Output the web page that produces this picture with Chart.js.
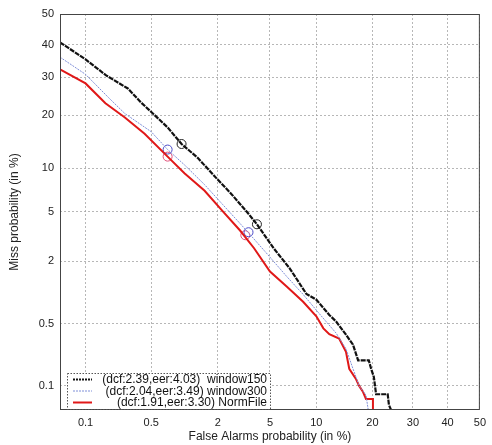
<!DOCTYPE html>
<html>
<head>
<meta charset="utf-8">
<script src="https://cdn.jsdelivr.net/npm/chart.js@4/dist/chart.umd.min.js"></script>
<style>
    html, body { margin: 0; padding: 0; background: #fff; }
    canvas { display: block; }
</style>
</head>
<body>
<canvas id="det" width="492" height="445"></canvas>
<script>
// tick positions (in %) on both axes
const tickValues = [0.1, 0.5, 2, 5, 10, 20, 30, 40, 50];
const tickLabels = ['0.1', '0.5', '2', '5', '10', '20', '30', '40', '50'];

// window150
const fa150 = [0.05, 0.1, 0.17, 0.29, 0.40, 0.51, 0.72, 0.97, 1.35, 1.98, 2.55, 3.40, 4.03, 5.3, 6.8, 8.7, 10.0, 11.9, 13.0, 14.7, 16.0, 17.0, 19.2, 19.7, 20.3, 20.8, 23.5, 23.8, 24.7];
const miss150 = [40.7, 35.3, 30.5, 26.8, 23.0, 20.6, 17.3, 14.0, 11.6, 8.5, 6.8, 5.0, 4.03, 2.58, 1.73, 1.0, 0.88, 0.62, 0.53, 0.385, 0.30, 0.20, 0.20, 0.16, 0.128, 0.079, 0.079, 0.058, 0.045];
// window300
const fa300 = [0.05, 0.1, 0.18, 0.27, 0.50, 0.72, 1.03, 1.55, 2.18, 3.40, 4.6, 6.5, 8.3, 10.4, 13.0, 14.7, 16.0, 17.2, 18.6, 19.2];
const miss300 = [36.0, 30.8, 24.4, 20.4, 16.4, 13.0, 10.5, 7.8, 5.7, 3.56, 2.43, 1.46, 0.99, 0.64, 0.40, 0.27, 0.16, 0.10, 0.077, 0.045];
// NormFile
const faNorm = [0.05, 0.1, 0.167, 0.27, 0.43, 0.72, 1.03, 1.55, 2.18, 3.01, 3.84, 5.0, 6.5, 8.3, 10.0, 11.0, 11.9, 13.5, 14.7, 15.3, 16.6, 17.2, 18.0, 18.6, 20.1, 20.1];
const missNorm = [32.3, 28.2, 22.9, 19.5, 16.0, 11.8, 9.3, 7.1, 5.1, 3.6, 2.58, 1.62, 1.18, 0.84, 0.60, 0.45, 0.39, 0.35, 0.25, 0.16, 0.12, 0.10, 0.084, 0.069, 0.069, 0.045];

// operating points: dcf minimum and eer, order window150, window300, NormFile
const dcfFa = [0.97, 0.72, 0.72];
const dcfMiss = [14.0, 13.0, 11.8];
const eer = [4.03, 3.49, 3.30];

const legendLabels = [
    '(dcf:2.39,eer:4.03)  window150',
    '(dcf:2.04,eer:3.49) window300',
    '(dcf:1.91,eer:3.30) NormFile'
];
const colors = ['#111111', '#7f8fd8', '#e01818'];
const markerColors = ['#222222', '#4a4ac8', '#e0507a'];

// inverse of the normal cdf (Acklam)
function probit(p) {
    const a = [-39.69683028665376, 220.9460984245205, -275.9285104469687, 138.3577518672690, -30.66479806614716, 2.506628277459239];
    const b = [-54.47609879822406, 161.5858368580409, -155.6989798598866, 66.80131188771972, -13.28068155288572];
    const c = [-0.007784894002430293, -0.3223964580411365, -2.400758277161838, -2.549732539343734, 4.374664141464968, 2.938163982698783];
    const d = [0.007784695709041462, 0.3224671290700398, 2.445134137142996, 3.754408661907416];
    const plow = 0.02425;
    if (p < plow) {
        const q = Math.sqrt(-2 * Math.log(p));
        return (((((c[0] * q + c[1]) * q + c[2]) * q + c[3]) * q + c[4]) * q + c[5]) /
            ((((d[0] * q + d[1]) * q + d[2]) * q + d[3]) * q + 1);
    }
    if (p <= 1 - plow) {
        const q = p - 0.5;
        const r = q * q;
        return (((((a[0] * r + a[1]) * r + a[2]) * r + a[3]) * r + a[4]) * r + a[5]) * q /
            (((((b[0] * r + b[1]) * r + b[2]) * r + b[3]) * r + b[4]) * r + 1);
    }
    return -probit(1 - p);
}

function toPoints(fa, miss) {
    return fa.map((v, i) => ({ x: probit(v / 100), y: probit(miss[i] / 100) }));
}

const axisMin = probit(0.0005);
const axisMax = 0;
const font = { family: '"Liberation Sans", Arial, sans-serif', size: 11 };

const curves = [
    { label: legendLabels[0], data: toPoints(fa150, miss150), borderColor: colors[0], borderWidth: 2.2, borderDash: [5, 1] },
    { label: legendLabels[1], data: toPoints(fa300, miss300), borderColor: colors[1], borderWidth: 1, borderDash: [2, 1] },
    { label: legendLabels[2], data: toPoints(faNorm, missNorm), borderColor: colors[2], borderWidth: 2, borderDash: [] }
];

const markers = [];
for (let i = 0; i < 3; i++) {
    markers.push({
        label: 'pts' + i,
        data: [
            { x: probit(dcfFa[i] / 100), y: probit(dcfMiss[i] / 100) },
            { x: probit(eer[i] / 100), y: probit(eer[i] / 100) }
        ],
        showLine: false,
        pointRadius: 4.5,
        pointBorderWidth: 1,
        pointBorderColor: markerColors[i],
        pointBackgroundColor: 'rgba(0,0,0,0)'
    });
}

const boxAndLegend = {
    id: 'boxAndLegend',
    afterDatasetsDraw(chart) {
        const ctx = chart.ctx;
        const ca = chart.chartArea;
        ctx.save();
        // frame
        ctx.strokeStyle = '#444';
        ctx.lineWidth = 1;
        ctx.setLineDash([]);
        ctx.strokeRect(ca.left + 0.5, ca.top + 0.5, ca.right - ca.left - 1, ca.bottom - ca.top - 1);

        // legend box
        const bx = ca.left + 7, by = ca.bottom - 37, bw = 203, bh = 36;
        ctx.fillStyle = '#fff';
        ctx.fillRect(bx, by, bw, bh);
        ctx.strokeStyle = '#555';
        ctx.setLineDash([1.5, 1.5]);
        ctx.strokeRect(bx + 0.5, by + 0.5, bw, bh);

        ctx.font = '12px ' + font.family;
        ctx.textAlign = 'right';
        ctx.textBaseline = 'middle';
        for (let i = 0; i < curves.length; i++) {
            const ry = by + 6.5 + i * 11.5;
            ctx.strokeStyle = curves[i].borderColor;
            ctx.lineWidth = curves[i].borderWidth;
            ctx.setLineDash(i === 0 ? [2, 1] : curves[i].borderDash);
            ctx.beginPath();
            ctx.moveTo(bx + 6, ry);
            ctx.lineTo(bx + 25, ry);
            ctx.stroke();
            ctx.fillStyle = '#111';
            ctx.fillText(legendLabels[i], bx + bw - 3, ry + 0.5);
        }
        ctx.restore();
    }
};

function probitAxis(titleText, titlePadding) {
    return {
        type: 'linear',
        min: axisMin,
        max: axisMax,
        afterBuildTicks: (axis) => {
            axis.ticks = tickValues.map((v) => ({ value: probit(v / 100) }));
        },
        ticks: {
            callback: (value, index) => tickLabels[index],
            autoSkip: false,
            maxRotation: 0,
            padding: 6,
            color: '#222',
            font: font
        },
        grid: {
            color: 'rgba(165,165,165,0.8)',
            lineWidth: 1,
            drawTicks: false
        },
        border: { display: false, dash: [2, 2] },
        title: {
            display: true,
            text: titleText,
            color: '#222',
            font: { family: font.family, size: 12 },
            padding: titlePadding
        }
    };
}

const xAxis = probitAxis('False Alarms probability (in %)', { top: 0, bottom: 1 });
xAxis.afterFit = (axis) => { axis.height = 35; };
const yAxis = probitAxis('Miss probability (in %)', { top: 7, bottom: 0 });
yAxis.afterFit = (axis) => { axis.width = 60; };

new Chart(document.querySelector('#det'), {
    type: 'scatter',
    data: {
        datasets: curves.map((c) => ({
            label: c.label,
            data: c.data,
            showLine: true,
            borderColor: c.borderColor,
            borderWidth: c.borderWidth,
            borderDash: c.borderDash,
            pointRadius: 0,
            fill: false,
            tension: 0
        })).concat(markers)
    },
    options: {
        responsive: false,
        animation: false,
        devicePixelRatio: 1,
        layout: { padding: { left: 0, right: 7, top: 14, bottom: 0 } },
        plugins: {
            legend: { display: false },
            tooltip: { enabled: false }
        },
        scales: { x: xAxis, y: yAxis }
    },
    plugins: [boxAndLegend]
});
</script>
</body>
</html>
